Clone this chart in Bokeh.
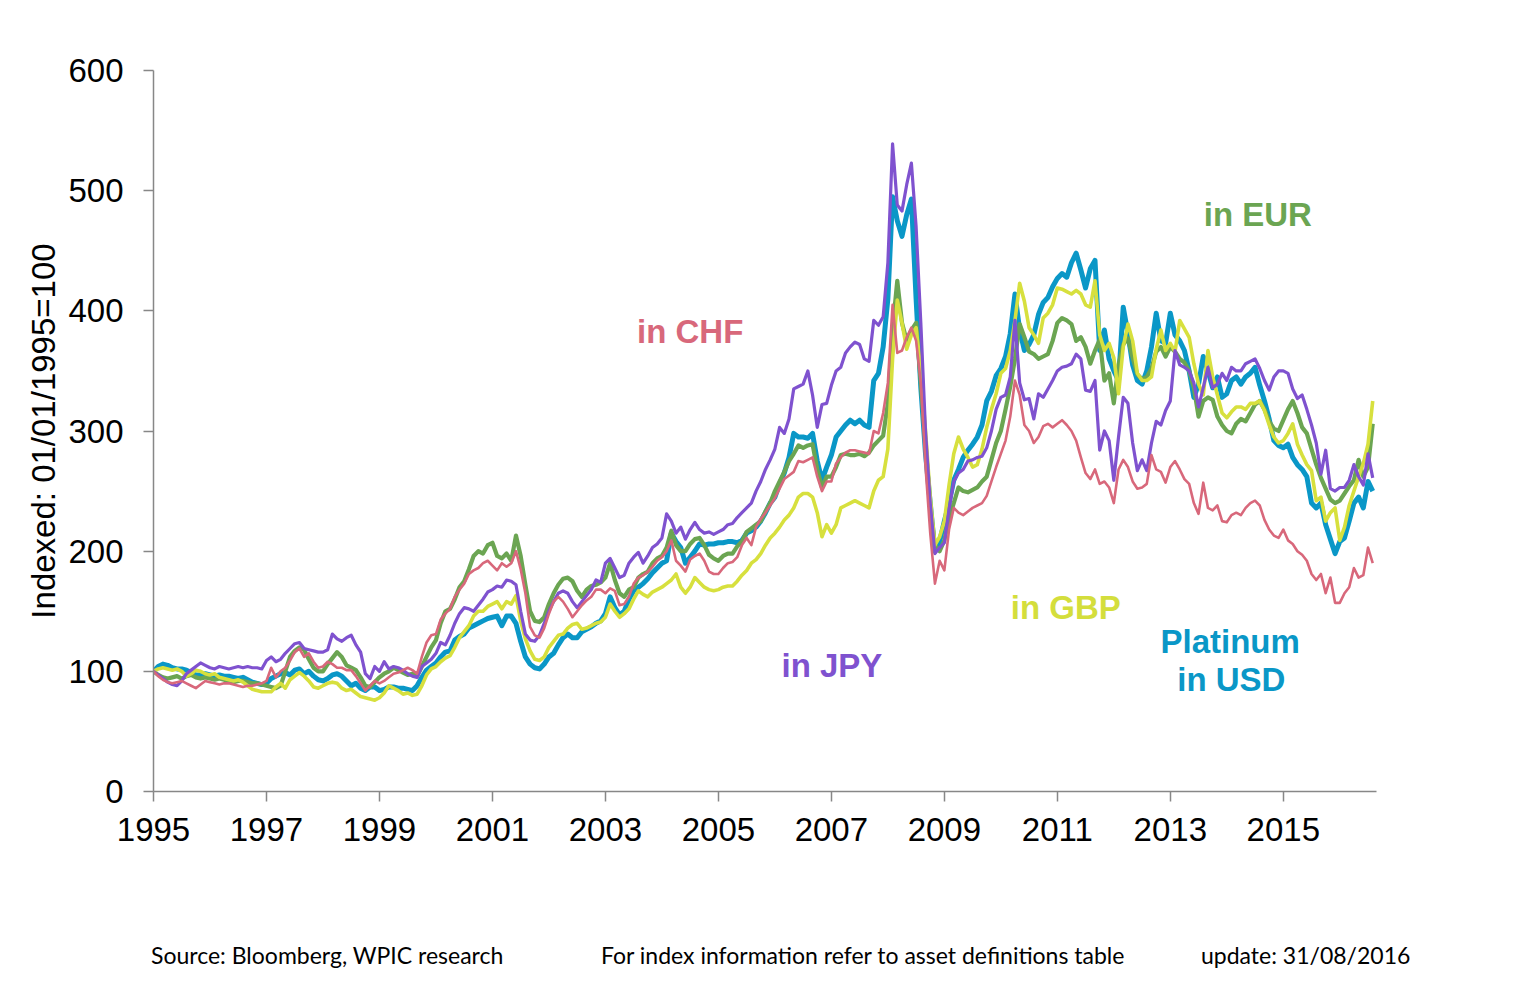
from bokeh.plotting import figure
from bokeh.models import Range1d, FixedTicker, Label, Div
from bokeh.layouts import column
from bokeh.embed import file_html
from bokeh.resources import INLINE

# ---------------- data (monthly, Jan 1995 .. Aug 2016), indexed 01/01/1995 = 100
start_year = 1995
year_ticks = [1995, 1997, 1999, 2001, 2003, 2005, 2007, 2009, 2011, 2013, 2015]
y_ticks = [0, 100, 200, 300, 400, 500, 600]

usd = [
    100, 104, 106, 105, 103, 102, 102, 101, 99, 97, 97, 98,
    97, 96, 97, 96, 96, 95, 94, 95, 93, 91, 90, 89,
    90, 94, 96, 98, 99, 97, 101, 102, 98, 100, 96, 93,
    92, 94, 97, 98, 96, 92, 88, 90, 86, 84, 87, 87,
    84, 85, 87, 87, 86, 86, 85, 84, 88, 95, 101, 104,
    107, 112, 116, 117, 126, 129, 131, 136, 138, 140, 142, 144,
    145, 146, 138, 146, 146, 140, 125, 112, 106, 103, 102, 106,
    112, 115, 122, 128, 131, 128, 128, 133, 135, 137, 140, 142,
    148, 162, 153, 147, 150, 160, 167, 170, 173, 177, 182, 186,
    190, 192, 215, 208, 203, 190, 195, 200, 206, 205, 206, 206,
    207, 207, 208, 208, 207, 209, 215, 217, 220, 225, 232, 240,
    245, 256, 265, 278, 298, 295, 295, 294, 298, 275, 259, 270,
    280, 295, 300, 305, 309, 306, 309, 305, 303, 342, 348, 370,
    410, 495, 475, 462, 480, 493, 410, 336, 281, 240, 200, 208,
    225, 240, 259, 268, 278, 284, 289, 295, 305, 325, 333, 346,
    352, 362, 381, 414, 384, 367, 372, 380, 397, 407, 411, 420,
    427, 431, 428, 440, 448, 434, 419, 435, 442, 367, 384, 360,
    350, 342, 403, 381, 355, 342, 339, 350, 370, 398, 375, 373,
    398, 380, 375, 367, 350, 328, 339, 362, 350, 336, 345, 328,
    331, 342, 345, 339, 345, 348, 353, 338, 325, 310, 292, 288,
    286, 289, 278, 272, 268, 262, 240, 236, 240, 222, 210, 198,
    208, 211, 225, 240, 245, 236, 258, 250,
]

eur = [
    100, 97, 95, 94, 95, 96, 94, 96, 97, 95, 94, 95,
    94, 93, 94, 93, 92, 91, 92, 92, 91, 90, 90, 89,
    88, 87, 86, 88, 100, 112, 117, 120, 118, 110, 103, 100,
    100, 106, 111, 116, 112, 105, 103, 101, 95, 88, 87, 91,
    95, 98, 100, 103, 101, 99, 97, 98, 96, 104, 112, 120,
    126, 140, 150, 152, 160, 170, 175, 185, 196, 200, 198, 205,
    207, 196, 194, 198, 192, 213, 196, 172, 150, 142, 141, 145,
    156, 165, 172, 177, 178, 175, 167, 162, 168, 171, 172, 174,
    178, 190, 176, 165, 162, 168, 170, 178, 181, 183, 190, 194,
    196, 203, 217, 205, 200, 200, 206, 210, 211, 205, 197, 194,
    192, 196, 198, 198, 204, 208, 216, 219, 222, 225, 233, 240,
    250, 258, 266, 275, 281, 288, 286, 288, 289, 268, 253, 262,
    262, 270, 280, 281, 280, 280, 281, 279, 282, 288, 292, 296,
    323, 385, 425, 390, 375, 384, 390, 340, 290, 235, 205, 200,
    209, 228, 240, 253, 250, 249, 251, 253, 258, 262, 276, 290,
    300, 318, 337, 360, 389, 378, 366, 364, 360, 362, 364, 375,
    390, 394, 392, 389, 375, 378, 370, 356, 367, 376, 342, 348,
    323, 355, 372, 377, 361, 347, 343, 345, 352, 366, 370, 362,
    370, 366, 360, 357, 350, 336, 312, 325, 328, 326, 312, 305,
    300, 298, 306, 310, 308, 315, 322, 325, 318, 308, 302, 300,
    309, 318, 325, 315, 303, 298, 285, 272, 261, 252, 243, 240,
    242, 248, 254, 259, 276, 262, 270, 306,
]

gbp = [
    100, 102, 103, 102, 101, 102, 100, 96, 98, 101, 100, 98,
    97, 98, 95, 94, 93, 92, 93, 91, 88, 85, 84, 83,
    83, 83, 87, 90, 86, 93, 96, 99, 96, 92, 87, 86,
    88, 90, 91, 90, 86, 84, 85, 82, 79, 78, 77, 76,
    78, 82, 88, 86, 84, 81, 82, 80, 81, 88, 97, 102,
    104, 108, 111, 113, 120, 128, 133, 138, 146, 150, 150, 154,
    156, 158, 152, 158, 156, 163, 142, 127, 117, 110, 109, 112,
    120, 125, 130, 131, 136, 139, 140, 135, 136, 138, 140, 141,
    145, 156, 150, 145, 148, 152, 160, 167, 164, 162, 166, 168,
    170, 173, 176, 181, 170, 165, 170, 178, 174, 170, 168, 167,
    168, 170, 171, 171, 175, 180, 184, 190, 193, 198, 205, 211,
    215, 220, 226, 230, 236, 245, 248, 248, 245, 232, 212, 222,
    215, 222, 236, 238, 240, 242, 240, 238, 236, 250, 259, 262,
    285, 360, 409, 390, 368, 380, 386, 350, 300, 245, 205, 212,
    225, 255, 281, 295, 285, 278, 270, 272, 285, 303, 318, 331,
    348, 352, 367, 392, 423, 408, 386, 380, 373, 394, 398, 405,
    419, 418, 416, 414, 417, 414, 405, 403, 425, 380, 367, 373,
    361, 331, 370, 389, 375, 348, 342, 342, 345, 368, 384, 367,
    373, 366, 392, 385, 378, 356, 339, 330, 367, 345, 330, 315,
    311, 316, 320, 320, 318, 323, 323, 325, 317, 305, 295, 290,
    292, 298, 306, 289, 280, 272, 267, 242, 245, 225, 232, 236,
    209, 220, 238, 250, 262, 273, 289, 325,
]

jpy = [
    100, 97, 94, 91, 89, 88, 92, 98, 101, 104, 107, 105,
    103, 102, 104, 103, 102, 103, 104, 103, 104, 103, 103, 102,
    109, 112, 108, 110, 115, 119, 123, 124, 119, 118, 117, 116,
    116, 118, 131, 127, 125, 128, 130, 122, 116, 98, 94, 104,
    100, 108, 102, 104, 103, 101, 98, 96, 95, 104, 107, 110,
    115, 124, 122, 130, 140, 148, 153, 152, 150, 155, 160, 166,
    168, 171, 170, 176, 175, 172, 150, 131, 126, 125, 130, 140,
    150, 158, 165, 167, 165, 158, 153, 158, 163, 168, 176, 174,
    190, 194, 186, 178, 180, 190, 195, 199, 190, 196, 203, 206,
    211, 231, 225, 215, 220, 210, 218, 224, 218, 215, 216, 214,
    216, 218, 222, 223, 228, 232, 236, 240, 250, 258, 268, 276,
    285, 303, 298, 310, 335, 337, 339, 350, 330, 303, 322, 323,
    338, 350, 353, 365, 370, 374, 372, 360, 358, 392, 388, 395,
    440, 539, 488, 483, 505, 523, 470, 390, 300, 240, 198, 203,
    207, 235, 258, 265, 268, 275, 276, 278, 279, 286, 300, 318,
    328, 330, 345, 392, 340, 326, 327, 310, 331, 328, 335, 342,
    350, 353, 354, 356, 364, 360, 334, 333, 342, 284, 300, 292,
    259, 295, 328, 323, 290, 267, 276, 267, 290, 308, 305, 317,
    325, 367, 355, 353, 350, 340, 320, 336, 353, 336, 339, 348,
    342, 353, 350, 350, 356, 358, 360, 352, 342, 334, 345, 350,
    350, 348, 335, 327, 330, 318, 305, 290, 264, 284, 252, 250,
    253, 253, 259, 272, 262, 255, 281, 261,
]

chf = [
    100, 96, 93, 91, 90, 91, 92, 90, 88, 86, 89, 92,
    91, 90, 89, 90, 90, 89, 88, 87, 88, 88, 89, 90,
    92, 103, 95, 100, 103, 109, 116, 119, 112, 115, 108, 103,
    104, 108, 106, 103, 103, 101, 101, 96, 90, 84, 88, 92,
    90, 92, 95, 98, 99, 101, 103, 101, 98, 112, 124, 130,
    131, 143, 148, 152, 162, 168, 173, 181, 184, 186, 190, 192,
    188, 184, 190, 187, 190, 200, 185, 165, 137, 130, 128, 136,
    148, 158, 162, 158, 152, 145, 150, 155, 159, 162, 168, 168,
    165, 169, 167, 155, 156, 162, 173, 178, 180, 183, 187, 192,
    195, 200, 209, 192, 188, 183, 193, 196, 198, 192, 183, 181,
    181, 186, 190, 191, 195, 205, 211, 205, 220, 227, 232, 238,
    244, 252, 260, 263, 266, 275, 274, 276, 278, 262, 250, 258,
    258, 273, 278, 282, 284, 284, 283, 282, 281, 300, 298, 315,
    340, 405, 365, 367, 378, 386, 375, 340, 270, 215, 173, 192,
    184, 218, 236, 232, 230, 233, 236, 238, 240, 246, 258, 270,
    281, 292, 312, 342, 330, 305, 300, 290, 295, 304, 306, 303,
    306, 309, 305, 300, 292, 278, 265, 260, 268, 256, 258, 253,
    240, 268, 276, 270, 258, 252, 253, 256, 280, 268, 266, 257,
    270, 275, 268, 260, 256, 240, 231, 257, 236, 234, 238, 225,
    224, 230, 232, 230, 236, 240, 242, 238, 226, 218, 213, 211,
    218, 209, 206, 200, 197, 192, 181, 176, 181, 165, 178, 157,
    157, 165, 170, 186, 178, 180, 203, 190,
]

series_names = ["in USD", "in EUR", "in GBP", "in JPY", "in CHF"]
series_values = [usd, eur, gbp, jpy, chf]
series_colors = ["#0a97c7", "#6ba552", "#d7e03e", "#7f52cf", "#d8687b"]
series_widths = [5.0, 4.2, 3.6, 3.2, 2.6]

footer_texts = ["Source: Bloomberg, WPIC research",
                "For index information refer to asset definitions table",
                "update: 31/08/2016"]

# ---------------- main figure
W = 1520
p = figure(width=W, height=900, output_backend="svg", toolbar_location=None,
           x_range=Range1d(1995, 2016.65), y_range=Range1d(0, 600),
           min_border_left=153, min_border_right=W - 153 - 1223,
           min_border_top=70, min_border_bottom=900 - 70 - 721)
p.outline_line_color = None
p.xgrid.visible = False
p.ygrid.visible = False
p.background_fill_color = "white"
p.border_fill_color = "white"

for vals, col, w in zip(series_values, series_colors, series_widths):
    xs = [start_year + i / 12.0 for i in range(len(vals))]
    p.line(xs, vals, line_color=col, line_width=w, line_join="round")

axis_col = "#878787"
tick_font = "Liberation Sans, Arial, sans-serif"

p.xaxis.ticker = FixedTicker(ticks=year_ticks)
p.xaxis.major_label_overrides = {t: str(t) for t in year_ticks}
p.yaxis.ticker = FixedTicker(ticks=y_ticks)

for ax in (p.xaxis[0], p.yaxis[0]):
    ax.axis_line_color = axis_col
    ax.axis_line_width = 1.5
    ax.major_tick_line_color = axis_col
    ax.major_tick_line_width = 1.5
    ax.major_tick_out = 10
    ax.major_tick_in = 0
    ax.minor_tick_line_color = None
    ax.major_label_text_font = tick_font
    ax.major_label_text_font_size = "33px"
    ax.major_label_text_color = "#000000"

p.xaxis.major_label_standoff = 16
p.yaxis.major_label_standoff = 20
p.yaxis.axis_label = "Indexed: 01/01/1995=100"
p.yaxis.axis_label_text_font = "Liberation Sans, Arial, sans-serif"
p.yaxis.axis_label_text_font_size = "33px"
p.yaxis.axis_label_text_font_style = "normal"
p.yaxis.axis_label_text_color = "#000000"
p.yaxis.axis_label_standoff = 3

# ---------------- series labels
lab_font = "Liberation Sans, Arial, sans-serif"
labels = [
    ("in CHF", 2004.50, 383, series_colors[4]),
    ("in EUR", 2014.55, 480, series_colors[1]),
    ("in GBP", 2011.15, 153, "#d4de3c"),
    ("Platinum", 2014.06, 125, series_colors[0]),
    ("in USD", 2014.08, 93, series_colors[0]),
    ("in JPY", 2007.01, 105, series_colors[3]),
]
for txt, x, y, c in labels:
    p.add_layout(Label(x=x, y=y, text=txt, text_color=c, text_font=lab_font,
                       text_font_size="33px", text_font_style="bold",
                       text_align="center", text_baseline="middle"))

# ---------------- footer strip (HTML, absolutely positioned)
footer_x = [151, 601, 1201]
spans = "".join(
    '<span style="position:absolute;left:%dpx;top:44px;white-space:nowrap;">%s</span>' % (x, t)
    for x, t in zip(footer_x, footer_texts))
footer = Div(text='<div style="position:relative;width:%dpx;height:90px;'
                  'font-family:Lato,sans-serif;font-size:23px;line-height:23px;'
                  'color:#000;">%s</div>' % (W, spans),
             width=W, height=90, margin=(0, 0, 0, 0))

layout = column(p, footer, spacing=0)
open("out.html", "w").write(file_html(layout, INLINE))
